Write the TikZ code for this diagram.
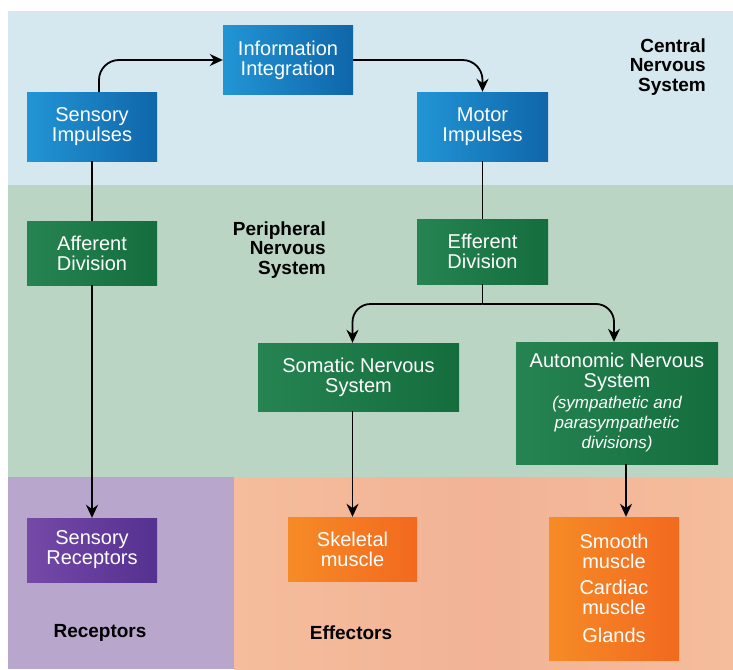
\documentclass[tikz,border=0pt]{standalone}
\usepackage{fontspec}
\setmainfont{Liberation Sans}
\usetikzlibrary{arrows.meta}
\definecolor{cnsband}{HTML}{D5E7EF}
\definecolor{pnsband}{HTML}{BBD5C5}
\definecolor{recband}{HTML}{B9A6CD}
\definecolor{effband}{HTML}{F5BD9C}
\definecolor{effbanddark}{HTML}{F2B396}
\definecolor{bluelight}{HTML}{2295D5}
\definecolor{bluedark}{HTML}{0F66A9}
\definecolor{greenlight}{HTML}{268452}
\definecolor{greendark}{HTML}{146D3D}
\definecolor{purplelight}{HTML}{7549A8}
\definecolor{purpledark}{HTML}{553190}
\definecolor{orangelight}{HTML}{F68B26}
\definecolor{orangedark}{HTML}{F2691F}

\newcommand{\subnote}[1]{{\fontsize{17}{19}\selectfont\itshape #1}}

\tikzset{
  box/.style={minimum width=130pt, minimum height=68pt, inner sep=0pt,
    align=center, text=white, font=\fontsize{20}{20}\selectfont},
  bluebox/.style={box, left color=bluelight, right color=bluedark},
  greenbox/.style={box, left color=greenlight, right color=greendark},
  purplebox/.style={box, left color=purplelight, right color=purpledark},
  orangebox/.style={box, left color=orangelight, right color=orangedark},
  flow/.style={line width=1.8pt, -{Stealth[length=13pt,width=12pt]}},
  plain/.style={line width=1.8pt},
  bandlabel/.style={font=\fontsize{19}{19.5}\selectfont\bfseries, inner sep=0pt}
}

\begin{document}
\begin{tikzpicture}[x=1pt, y=-1pt]
\useasboundingbox (0,0) rectangle (733,669);
% Background bands
\fill[cnsband] (8,11) rectangle (733,185);
\fill[pnsband] (8,185) rectangle (733,477);
\fill[recband] (8,477) rectangle (234,669);
\shade[left color=effband, right color=effband, middle color=effbanddark] (234,477) rectangle (733,669);

% Band labels
\node[bandlabel, anchor=east, align=right] (cnslabel) at (706,67) {Central\\Nervous\\System};
\node[bandlabel, anchor=east, align=right] (pnslabel) at (326,250) {Peripheral\\Nervous\\System};
\node[bandlabel] (reclabel) at (100,633) {Receptors};
\node[bandlabel] (efflabel) at (351,633) {Effectors};

% Central nervous system
\node[bluebox, minimum height=69pt] (sens) at (92,126.5) {Sensory\\Impulses};
\node[bluebox] (info) at (288,60) {Information\\Integration};
\node[bluebox, minimum width=131pt, minimum height=69pt] (motor) at (482.5,126.5) {Motor\\Impulses};

% Peripheral nervous system
\node[greenbox, minimum height=64pt] (aff) at (92,253) {Afferent\\Division};
\node[greenbox, minimum width=131pt, minimum height=65pt] (eff) at (482.5,251.5) {Efferent\\Division};
\node[greenbox, minimum width=201pt] (som) at (358.5,377) {Somatic Nervous\\System};
\node[greenbox, minimum width=202pt, minimum height=122pt] (auto) at (617,403)
  {Autonomic Nervous\\System\\[1pt]\subnote{(sympathetic and}\\\subnote{parasympathetic}\\\subnote{divisions)}};

% Receptors and effectors
\node[purplebox, minimum height=64pt] (rec) at (92,550) {Sensory\\Receptors};
\node[orangebox, minimum width=129pt, minimum height=64pt] (skel) at (352.5,549) {Skeletal\\muscle};
\node[orangebox, minimum height=143pt] (smooth) at (614,588.5) {Smooth\\muscle\\[6pt]Cardiac\\muscle\\[8pt]Glands};

% Connectors
\draw[flow, rounded corners=20pt] ([xshift=7pt]sens.north) |- (info.west);
\draw[flow, rounded corners=20pt] (info.east) -| (motor.north);
\draw[plain] (sens.south) -- (aff.north);
\draw[flow] (aff.south) -- (rec.north);
\draw[plain] (motor.south) -- (eff.north);
\coordinate (split) at (482.5,304);
\draw[plain] (eff.south) -- (split);
\draw[flow, rounded corners=18pt] (split) -| (som.north -| skel.north);
\draw[flow, rounded corners=18pt] (split) -| (auto.north -| smooth.north);
\draw[flow] (som.south -| skel.north) -- (skel.north);
\draw[flow] ([xshift=9pt]auto.south) -- ([xshift=9pt]auto.south |- smooth.north);
\end{tikzpicture}
\end{document}
